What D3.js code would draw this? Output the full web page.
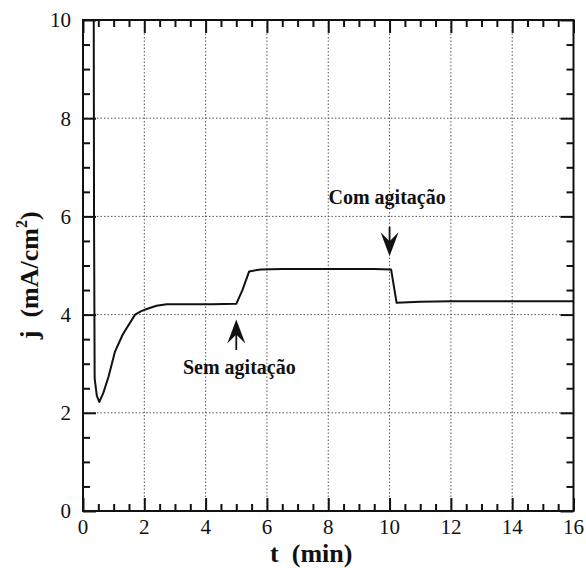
<!DOCTYPE html>
<html>
<head>
<meta charset="utf-8">
<script src="https://cdn.jsdelivr.net/npm/d3@7"></script>
<style>
  body { margin: 0; background: #fff; }
</style>
</head>
<body>
<svg id="graph" width="586" height="568"></svg>
<script>
// curve
const time = [0.35, 0.36, 0.38, 0.45, 0.53, 0.66, 0.83, 1.04, 1.3, 1.7, 1.9, 2.1, 2.4, 2.73, 3.5, 4.2, 5.0, 5.2, 5.42, 5.8, 6.5, 8, 9.5, 10.05, 10.23, 11, 12, 14, 16];
const current = [10.2, 6.0, 2.7, 2.35, 2.22, 2.4, 2.73, 3.24, 3.6, 4.0, 4.07, 4.12, 4.18, 4.21, 4.21, 4.21, 4.22, 4.5, 4.88, 4.92, 4.93, 4.93, 4.93, 4.92, 4.24, 4.26, 4.27, 4.27, 4.27];

const xTicks = [0, 2, 4, 6, 8, 10, 12, 14, 16];
const yTicks = [0, 2, 4, 6, 8, 10];

// annotations: label, arrow x, arrow from -> to (tip), label position
const notes = [
  { label: "Sem agitação", ax: 5.0, from: 3.28, to: 3.9, tx: 5.1, ty: 2.79 },
  { label: "Com agitação", ax: 10.0, from: 5.79, to: 5.19, tx: 9.92, ty: 6.25 }
];

const W = 586, H = 568;
const margin = { top: 20, right: 12.5, bottom: 57, left: 83 };
const FONT = "'Liberation Serif', 'DejaVu Serif', serif";
const svg = d3.select("#graph").attr("font-family", FONT);

const x = d3.scaleLinear().domain([0, 16]).range([margin.left, W - margin.right]);
const y = d3.scaleLinear().domain([0, 10]).range([H - margin.bottom, margin.top]);

svg.append("clipPath").attr("id", "clip")
  .append("rect")
  .attr("x", margin.left).attr("y", margin.top)
  .attr("width", x(16) - x(0)).attr("height", y(0) - y(10));

// dotted grid
const grid = svg.append("g").attr("stroke", "#555").attr("stroke-width", 1).attr("stroke-dasharray", "1.5,2");
grid.selectAll("line.v").data(xTicks.slice(1, -1)).join("line")
  .attr("x1", d => x(d)).attr("x2", d => x(d))
  .attr("y1", y(0)).attr("y2", y(10));
grid.selectAll("line.h").data(yTicks.slice(1, -1)).join("line")
  .attr("y1", d => y(d)).attr("y2", d => y(d))
  .attr("x1", x(0)).attr("x2", x(16));

// axes with inward ticks on all four sides
const xMinor = d3.range(0, 16.01, 0.5).filter(v => v % 2 !== 0);
const yMinor = d3.range(0, 10.01, 0.5).filter(v => v % 2 !== 0);

function styleAxis(g) {
  g.select(".domain").remove();
  g.selectAll(".tick line").attr("stroke", "#111").attr("stroke-width", 2);
}

svg.append("g").attr("transform", `translate(0,${y(0)})`)
  .call(d3.axisTop(x).tickValues(xMinor).tickSize(7).tickFormat(""))
  .call(styleAxis);
svg.append("g").attr("transform", `translate(0,${y(0)})`)
  .call(d3.axisTop(x).tickValues(xTicks).tickSize(13).tickFormat(""))
  .call(styleAxis);
svg.append("g").attr("transform", `translate(0,${y(10)})`)
  .call(d3.axisBottom(x).tickValues(xMinor).tickSize(7).tickFormat(""))
  .call(styleAxis);
svg.append("g").attr("transform", `translate(0,${y(10)})`)
  .call(d3.axisBottom(x).tickValues(xTicks).tickSize(13).tickFormat(""))
  .call(styleAxis);
svg.append("g").attr("transform", `translate(${x(0)},0)`)
  .call(d3.axisRight(y).tickValues(yMinor).tickSize(7).tickFormat(""))
  .call(styleAxis);
svg.append("g").attr("transform", `translate(${x(0)},0)`)
  .call(d3.axisRight(y).tickValues(yTicks).tickSize(13).tickFormat(""))
  .call(styleAxis);
svg.append("g").attr("transform", `translate(${x(16)},0)`)
  .call(d3.axisLeft(y).tickValues(yMinor).tickSize(7).tickFormat(""))
  .call(styleAxis);
svg.append("g").attr("transform", `translate(${x(16)},0)`)
  .call(d3.axisLeft(y).tickValues(yTicks).tickSize(13).tickFormat(""))
  .call(styleAxis);

// frame
svg.append("rect")
  .attr("x", x(0)).attr("y", y(10))
  .attr("width", x(16) - x(0)).attr("height", y(0) - y(10))
  .attr("fill", "none").attr("stroke", "#111").attr("stroke-width", 2);

// tick labels
svg.append("g").selectAll("text").data(xTicks).join("text")
  .attr("font-family", FONT).attr("fill", "#111")
  .attr("x", d => x(d)).attr("y", y(0) + 23)
  .attr("text-anchor", "middle").attr("font-size", 21)
  .text(d => d);
svg.append("g").selectAll("text").data(yTicks).join("text")
  .attr("font-family", FONT).attr("fill", "#111")
  .attr("x", x(0) - 12).attr("y", d => y(d)).attr("dy", "0.35em")
  .attr("text-anchor", "end").attr("font-size", 21)
  .text(d => d);

// axis titles
svg.append("text")
  .attr("font-family", FONT).attr("fill", "#111")
  .attr("x", (x(0) + x(16)) / 2 - 17).attr("y", H - 6)
  .attr("text-anchor", "middle").attr("font-size", 26).attr("font-weight", "bold")
  .style("white-space", "pre")
  .text("t  (min)");

const yl = svg.append("text")
  .attr("font-family", FONT).attr("fill", "#111")
  .attr("transform", `translate(38,${y(4.8)}) rotate(-90)`)
  .attr("text-anchor", "middle").attr("font-size", 26).attr("font-weight", "bold")
  .style("white-space", "pre");
yl.append("tspan").text("j  (mA/cm");
yl.append("tspan").attr("font-size", 16).attr("dy", -11).text("2");
yl.append("tspan").attr("dy", 11).text(")");

// curve
const line = d3.line().x((d, i) => x(time[i])).y(d => y(d));
svg.append("path")
  .datum(current)
  .attr("clip-path", "url(#clip)")
  .attr("fill", "none").attr("stroke", "#111").attr("stroke-width", 2)
  .attr("stroke-linejoin", "round")
  .attr("d", line);

// annotations
const ann = svg.append("g");
notes.forEach(n => {
  const x0 = x(n.ax), yFrom = y(n.from), yTip = y(n.to);
  const dir = yTip < yFrom ? 1 : -1; // 1 = arrow points up
  ann.append("line")
    .attr("x1", x0).attr("x2", x0).attr("y1", yFrom).attr("y2", yTip + dir * 8)
    .attr("stroke", "#111").attr("stroke-width", 1.8);
  const L = 24, hw = 9, notch = 15;
  ann.append("path")
    .attr("fill", "#111")
    .attr("d", `M${x0},${yTip} L${x0 + hw},${yTip + dir * L} L${x0},${yTip + dir * notch} L${x0 - hw},${yTip + dir * L} Z`);
  ann.append("text")
    .attr("font-family", FONT).attr("fill", "#111")
    .attr("x", x(n.tx)).attr("y", y(n.ty))
    .attr("text-anchor", "middle").attr("font-size", 20).attr("font-weight", "bold")
    .text(n.label);
});
</script>
</body>
</html>
